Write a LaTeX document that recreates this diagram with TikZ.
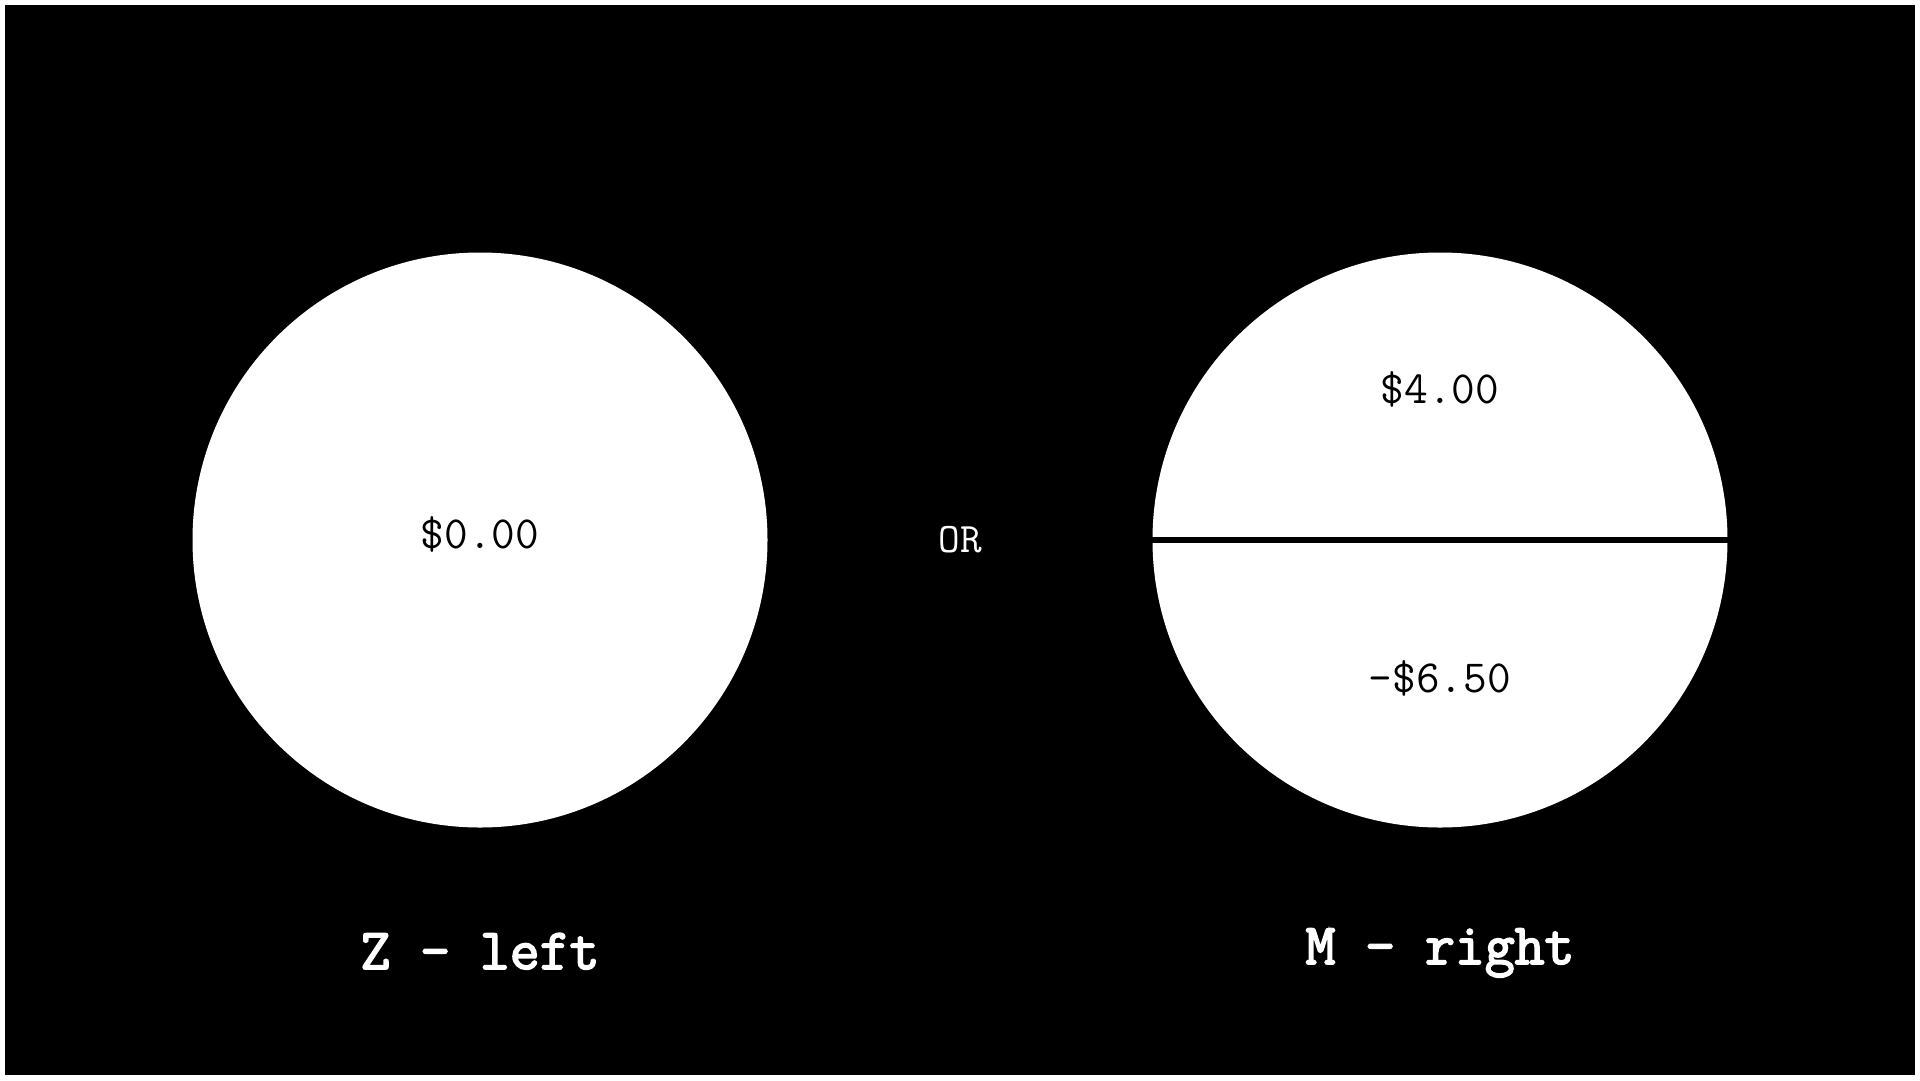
\documentclass[tikz,border=0pt]{standalone}
\usepackage{fontspec}
\newfontfamily\lblfont{Latin Modern Mono}[FakeBold=3]
\begin{document}
\begin{tikzpicture}[x=1pt,y=-1pt,
  disc/.style={circle,fill=white,draw=none,minimum size=575pt,inner sep=0pt},
  val/.style={anchor=base,inner sep=0pt,text=black,font=\ttfamily\fontsize{46}{46}\selectfont},
  ortext/.style={anchor=base,inner sep=0pt,text=white,font=\ttfamily\fontsize{42}{42}\selectfont},
  lbl/.style={anchor=base,inner sep=0pt,text=white,font=\lblfont\fontsize{58}{58}\selectfont}]
\useasboundingbox (0,0) rectangle (1920,1080);
\fill[white] (0,0) rectangle (1920,1080);
\fill[black] (5,5) rectangle (1915,1075);
\node[disc] (L) at (480,540) {};
\node[disc] (R) at (1440,540) {};
\draw[black,line width=5.5pt] (R.west) -- (R.east);
\node[val] (v0) at (480,548) {\$0.00};
\node[val] (v4) at (1440,403) {\$4.00};
\node[val] (v6) at (1440,692) {-\$6.50};
\node[ortext] (or) at (960,552) {OR};
\node[lbl] (zl) at (480,969) {Z - left};
\node[lbl] (mr) at (1440,964) {M - right};
\end{tikzpicture}
\end{document}
